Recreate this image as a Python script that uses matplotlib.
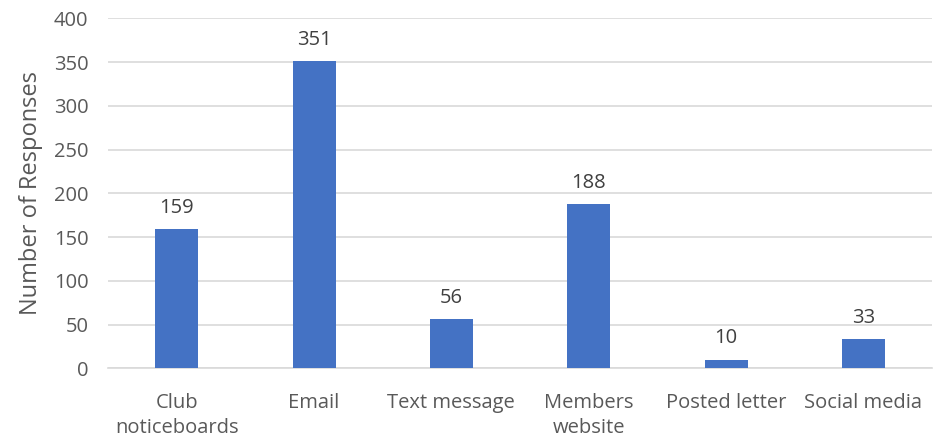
import matplotlib.pyplot as plt

categories = ["Club\nnoticeboards", "Email", "Text message", "Members\nwebsite", "Posted letter", "Social media"]
responses = [159, 351, 56, 188, 10, 33]
yticks = [0, 50, 100, 150, 200, 250, 300, 350, 400]

plt.rcParams['font.family'] = ['Open Sans', 'DejaVu Sans']

fig = plt.figure(figsize=(9.44, 4.4), dpi=100)
ax = fig.add_axes([0.1144, 0.163, 0.873, 0.795])

x = range(len(categories))
bars = ax.bar(x, responses, width=0.313, color='#4472C4', zorder=3)

for xi, v in zip(x, responses):
    ax.text(xi, v + 13, str(v), ha='center', va='bottom', fontsize=14.5, color='#404040')

ax.set_xlim(-0.5, len(categories) - 0.5)
ax.set_ylim(0, 400)
ax.set_yticks(yticks)
ax.set_xticks(list(x))
ax.set_xticklabels(categories, fontsize=14.5, color='#595959', linespacing=1.3)
ax.tick_params(axis='y', labelsize=14.5, labelcolor='#595959', length=0, pad=14)
ax.tick_params(axis='x', length=0, pad=18)
ax.set_ylabel('Number of Responses', fontsize=17, color='#595959', labelpad=8)

ax.grid(axis='y', color='#D9D9D9', linewidth=1.2, zorder=0)
for s in ['top', 'right', 'left']:
    ax.spines[s].set_visible(False)
ax.spines['bottom'].set_color('#D9D9D9')
ax.spines['bottom'].set_linewidth(1.2)

fig.savefig('out.png', dpi=100)
